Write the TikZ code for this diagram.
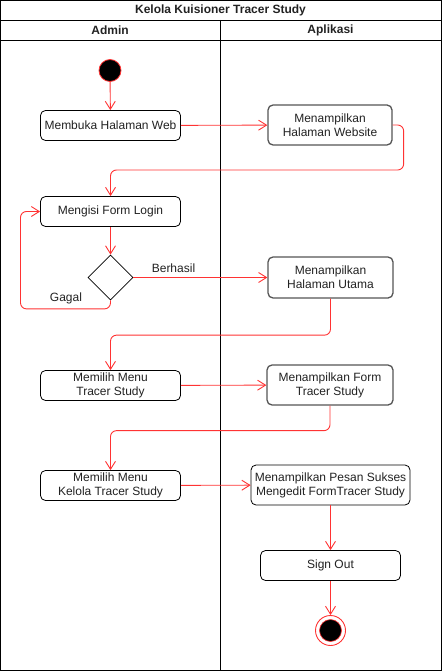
\documentclass[tikz,border=0pt]{standalone}
\usepackage{fontspec}
\setmainfont{Liberation Sans}
\usetikzlibrary{arrows.meta,shapes.geometric}
\definecolor{flow}{HTML}{FF3333}
\definecolor{txt}{HTML}{222222}
\definecolor{gbox}{HTML}{555555}
\begin{document}
\begin{tikzpicture}[x=1pt,y=-1pt,
  every node/.style={font=\fontsize{12}{14}\selectfont, text=txt},
  act/.style={draw=black, fill=white, rounded corners=5pt, line width=0.8pt, align=center, inner sep=0pt},
  actg/.style={act, draw=gbox, line width=1.3pt},
  flowline/.style={draw=flow, line width=0.9pt, rounded corners=6pt, -{Straight Barb[length=8pt,width=10pt]}},
  lbl/.style={inner sep=0pt}
]
\useasboundingbox (0,0) rectangle (442,671);
% swimlane frame
\draw[line width=0.9pt] (0.5,0.5) rectangle (441,670.5);
\draw[line width=0.9pt] (0.5,20) -- (441,20);
\draw[line width=0.9pt] (0.5,40) -- (441,40);
\draw[line width=0.9pt] (220,20) -- (220,670.5);
\node[font=\fontsize{12}{14}\selectfont\bfseries] (title) at (220.5,10.5) {Kelola Kuisioner Tracer Study};
\node[font=\fontsize{12}{14}\selectfont\bfseries] (admin) at (110,30.5) {Admin};
\node[font=\fontsize{12}{14}\selectfont\bfseries] (apl) at (330.5,30.5) {Aplikasi};

% start
\node[circle, fill=black, draw=flow, line width=0.8pt, minimum size=22pt, inner sep=0pt] (start) at (110,70.5) {};

% activities
\node[act, minimum width=140pt, minimum height=30pt] (web) at (110.5,125.5) {Membuka Halaman Web};
\node[actg, minimum width=124pt, minimum height=40pt] (webs) at (330,125) {Menampilkan\\Halaman Website};
\node[act, minimum width=140pt, minimum height=30pt] (login) at (110.5,211.5) {Mengisi Form Login};
\node[diamond, draw=black, fill=white, line width=0.8pt, minimum width=45pt, minimum height=45pt, inner sep=0pt] (dec) at (110.5,277.5) {};
\node[actg, minimum width=125pt, minimum height=41pt] (utama) at (330.5,277.5) {Menampilkan\\Halaman Utama};
\node[act, minimum width=140pt, minimum height=30pt] (menu) at (110.5,385.5) {Memilih Menu\\Tracer Study};
\node[actg, minimum width=126pt, minimum height=40pt] (form) at (330,385) {Menampilkan Form\\Tracer Study};
\node[act, minimum width=140pt, minimum height=30pt] (kelola) at (110.5,485.5) {Memilih Menu\\Kelola Tracer Study};
\node[act, minimum width=159pt, minimum height=40pt] (sukses) at (330.5,485) {Menampilkan Pesan Sukses\\Mengedit FormTracer Study};
\node[act, minimum width=140pt, minimum height=30pt] (signout) at (330.5,565.5) {Sign Out};

% end
\node[circle, draw=flow, fill=white, line width=0.9pt, minimum size=30pt, inner sep=0pt] (endo) at (330.5,630.5) {};
\node[circle, fill=black, draw=flow, line width=0.6pt, minimum size=22pt, inner sep=0pt] (endi) at (330.5,630.5) {};

% flows
\draw[flowline] (start) -- (web);
\draw[flowline] (web) -- (webs);
\draw[flowline] (webs.east) -- ++(11,0) -- ++(0,45) -| (login.north);
\draw[flowline] (login) -- (dec);
\draw[flowline] (dec.south) -- ++(0,8.5) -| (20.5,211.5) -- (login.west);
\node[lbl] (gagal) at (66,298.5) {Gagal};
\draw[flowline] (dec.east) -- (utama.west);
\node[lbl] (berhasil) at (173.5,268) {Berhasil};
\draw[flowline] (utama.south) -- ++(0,36.5) -| (menu.north);
\draw[flowline] (menu) -- (form);
\draw[flowline] (form.south) -- ++(0,25) -| (kelola.north);
\draw[flowline] (kelola) -- (sukses);
\draw[flowline] (sukses) -- (signout);
\draw[flowline] (signout) -- (endo);
\end{tikzpicture}
\end{document}
